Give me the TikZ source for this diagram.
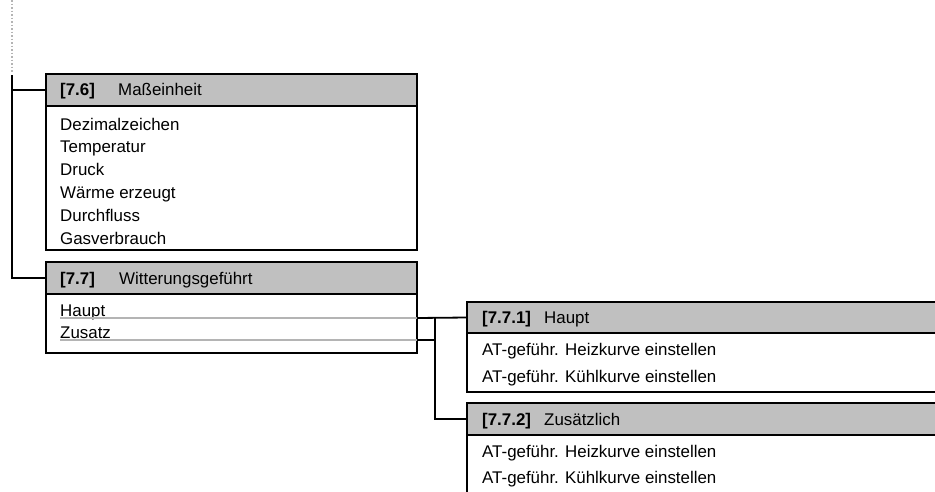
\documentclass[tikz,border=0pt]{standalone}
\usepackage{fontspec}
\setmainfont{Liberation Sans}
\usepackage{xcolor}
\usepackage{tikz}
\usetikzlibrary{positioning}
\definecolor{headgray}{RGB}{192,192,192}
\definecolor{linegray}{RGB}{180,180,180}
\tikzstyle{head} = [draw, line width=1.8pt, fill=headgray, anchor=north west, inner sep=0pt, outer sep=0pt, minimum height=32pt]
\tikzstyle{body} = [draw, line width=1.8pt, inner sep=0pt, outer sep=0pt]
\tikzstyle{item} = [anchor=base west, inner sep=0pt, font=\fontsize{16.9}{20}\selectfont]
\tikzstyle{num} = [item, font=\fontsize{16.9}{20}\selectfont\bfseries]
\tikzstyle{link} = [line width=1.8pt]
\tikzstyle{uline} = [line width=1.5pt, linegray]

\begin{document}
\begin{tikzpicture}[x=1pt, y=-1pt]
    \clip (0,0) rectangle (935,491);
    \fill[white] (0,0) rectangle (935,491);

    % tree trunk
    \draw[linegray, line width=1.5pt, dotted] (12,0) -- (12,72);
    \coordinate (trunk) at (12,75);

    % [7.6]
    \node[head, minimum width=371pt] (h76) at (46,74) {};
    \node[body, minimum width=371pt, minimum height=144pt, below=0pt of h76] (b76) {};
    \node[num] (n76) at (60,95.5) {[7.6]};
    \node[item] (t76) at (118,95.5) {Maßeinheit};
    \foreach \t [count=\i] in {Dezimalzeichen, Temperatur, Druck, Wärme erzeugt, Durchfluss, Gasverbrauch}
        \node[item] (i76-\i) at (60,{130+22.9*(\i-1)}) {\t};

    % [7.7]
    \node[head, minimum width=371pt] (h77) at (46,262) {};
    \node[body, minimum width=371pt, minimum height=59pt, below=0pt of h77] (b77) {};
    \node[num] (n77) at (60,284) {[7.7]};
    \node[item] (t77) at (119,284) {Witterungsgeführt};
    \node[item] (haupt) at (60,316) {Haupt};
    \node[item] (zusatz) at (60,338) {Zusatz};
    \coordinate (hauptend) at (417,318);
    \coordinate (zusatzend) at (417,340);
    \draw[uline] (haupt.base west) ++(0,2) -- (hauptend);
    \draw[uline] (zusatz.base west) ++(0,2) -- (zusatzend);

    % [7.7.1]
    \node[head, minimum width=490pt, minimum height=31pt] (h771) at (467,302) {};
    \node[body, minimum width=490pt, minimum height=59pt, below=0pt of h771] (b771) {};
    \node[num] (n771) at (482,323) {[7.7.1]};
    \node[item] (t771) at (544,323) {Haupt};
    \node[item] (i771-1) at (482,355) {AT-geführ. Heizkurve einstellen};
    \node[item] (i771-2) at (482,382) {AT-geführ. Kühlkurve einstellen};

    % [7.7.2]
    \node[head, minimum width=490pt] (h772) at (467,403) {};
    \node[body, minimum width=490pt, minimum height=80pt, below=0pt of h772] (b772) {};
    \node[num] (n772) at (482,425) {[7.7.2]};
    \node[item] (t772) at (544,425) {Zusätzlich};
    \node[item] (i772-1) at (482,457) {AT-geführ. Heizkurve einstellen};
    \node[item] (i772-2) at (482,483) {AT-geführ. Kühlkurve einstellen};

    % connectors
    \draw[link] (trunk) |- (h77.west);
    \draw[link] (h76.west -| trunk) -- (h76.west);
    \coordinate (fork) at (435,318);
    \draw[link] (hauptend) -- (h771.west);
    \draw[link] (zusatzend) -| (fork) |- (h772.west);
\end{tikzpicture}
\end{document}
